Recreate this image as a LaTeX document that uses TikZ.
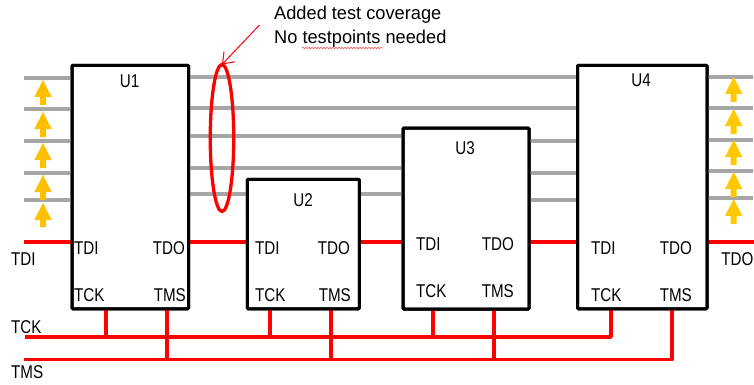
\documentclass[tikz,border=0pt]{standalone}
\usepackage{fontspec}
\setmainfont[FakeStretch=0.82]{Liberation Sans}
\newfontfamily\notefont[FakeStretch=0.985]{Liberation Sans}
\usetikzlibrary{arrows.meta,decorations.pathmorphing,shapes.geometric}
\definecolor{pinred}{RGB}{255,0,0}
\definecolor{wiregray}{RGB}{166,166,166}
\definecolor{flowyellow}{RGB}{255,192,0}
\definecolor{flowyellowb}{RGB}{255,200,0}
\tikzset{
  chip/.style={draw=black,line width=3pt,fill=white,rounded corners=1pt,inner sep=0pt,anchor=north west,outer sep=0pt},
  wire/.style={draw=wiregray,line width=4pt},
  jtag/.style={draw=pinred,line width=3.4pt,line join=round},
  lblw/.style={anchor=base west,inner sep=0pt,font=\fontsize{18.5}{20}\selectfont,text=black},
  lble/.style={anchor=base east,inner sep=0pt,font=\fontsize{18.5}{20}\selectfont,text=black},
  lblc/.style={anchor=base,inner sep=0pt,font=\fontsize{18.5}{20}\selectfont,text=black},
  notelbl/.style={anchor=base west,inner sep=0pt,font=\notefont\fontsize{18.5}{20}\selectfont,text=black},
}
\newcommand{\flowarrow}[4]{%
  \fill[#4] (#1,#2) -- (#1+8.7,#2+17) -- (#1+3,#2+17) -- (#1+3,#3) -- (#1-3,#3) -- (#1-3,#2+17) -- (#1-8.7,#2+17) -- cycle;}
\begin{document}
\begin{tikzpicture}[x=1pt,y=-1pt]
\clip (0,0) rectangle (754,385);
\fill[white] (0,0) rectangle (754,385);
% chips
\node[chip,minimum width=116.5pt,minimum height=243.5pt] (U1) at (72,65.3) {};
\node[chip,minimum width=112pt,minimum height=129.5pt] (U2) at (247.3,179.3) {};
\node[chip,minimum width=126pt,minimum height=181pt] (U3) at (403,128) {};
\node[chip,minimum width=129.5pt,minimum height=243.5pt] (U4) at (577.5,65.3) {};
% free ends
\coordinate (L1) at (24,78); \coordinate (L2) at (24,109.5); \coordinate (L3) at (24,141);
\coordinate (L4) at (24,172.5); \coordinate (L5) at (24,200);
\coordinate (R1) at (753,76.7); \coordinate (R2) at (753,108); \coordinate (R3) at (753,139.7);
\coordinate (R4) at (753,171); \coordinate (R5) at (753,198);
\coordinate (A1) at (0,76.7); \coordinate (A2) at (0,108); \coordinate (A3) at (0,136);
\coordinate (A4) at (0,168); \coordinate (A5) at (0,194); \coordinate (B1) at (0,141);
\coordinate (B2) at (0,172.7); \coordinate (B3) at (0,200);
\coordinate (TDIin) at (24,242); \coordinate (TDOout) at (754,242);
\coordinate (TCKin) at (25,337); \coordinate (TMSin) at (24,359.7);
% grey wires
\foreach \n in {1,...,5} \draw[wire] (L\n) -- (L\n -| U1.west);
\foreach \n in {1,...,5} \draw[wire] (U4.east |- R\n) -- (R\n);
\foreach \n in {1,2} \draw[wire] (U1.east |- A\n) -- (U4.west |- A\n);
\foreach \n in {3,4} \draw[wire] (U1.east |- A\n) -- (U3.west |- A\n);
\draw[wire] (U1.east |- A5) -- (U2.west |- A5);
\draw[wire] (U2.east |- A5) -- (U3.west |- A5);
\foreach \n in {1,2,3} \draw[wire] (U3.east |- B\n) -- (U4.west |- B\n);
% TDI/TDO chain
\draw[jtag] (TDIin) -- (TDIin -| U1.west);
\draw[jtag] (U1.east |- TDIin) -- (U2.west |- TDIin);
\draw[jtag] (U2.east |- TDIin) -- (U3.west |- TDIin);
\draw[jtag] (U3.east |- TDIin) -- (U4.west |- TDIin);
\draw[jtag] (U4.east |- TDIin) -- (TDOout);
% bus
\coordinate (k1) at (106,309); \coordinate (k2) at (270,309); \coordinate (k3) at (433,309); \coordinate (k4) at (611,309);
\coordinate (m1) at (167,309); \coordinate (m2) at (331,309); \coordinate (m3) at (494,309); \coordinate (m4) at (672,309);
\draw[jtag] (TCKin) -- (TCKin -| k4) -- (k4);
\draw[jtag] (TMSin) -- (TMSin -| m4) -- (m4);
\foreach \n in {1,2,3} \draw[jtag] (k\n) -- (k\n |- TCKin);
\foreach \n in {1,2,3} \draw[jtag] (m\n) -- (m\n |- TMSin);
% chip outlines over wire ends
\foreach \u in {U1,U2,U3,U4} \draw[black,line width=3pt,rounded corners=1pt] (\u.north west) rectangle (\u.south east);
% yellow arrows
\flowarrow{43}{80}{105}{flowyellow}\flowarrow{43}{112}{137}{flowyellow}\flowarrow{43}{143}{168}{flowyellow}\flowarrow{43}{175}{200}{flowyellow}\flowarrow{43}{203}{227}{flowyellow}
\flowarrow{733.7}{77}{102}{flowyellowb}\flowarrow{733.7}{109}{134}{flowyellowb}\flowarrow{733.7}{140}{165}{flowyellowb}\flowarrow{733.7}{172}{197}{flowyellowb}\flowarrow{733.7}{199}{224}{flowyellowb}
% callout
\node[draw=pinred,line width=3.3pt,shape=ellipse,minimum width=23.5pt,minimum height=147pt,inner sep=0pt,outer sep=0pt] (loop) at (222,138) {};
\coordinate (calloutstart) at (259.5,25);
\draw[pinred,line width=1pt,-{Straight Barb[length=10pt,width=15pt,line width=1pt]}] (calloutstart) -- (loop.north);
\node[notelbl] (note1) at (274,20) {Added test coverage};
\node[notelbl] (note2) at (274,44) {No testpoints needed};
\draw[pinred!70,line width=.5pt,decorate,decoration={snake,amplitude=.8pt,segment length=3pt}] (302,48) -- (383,48);
% chip labels
\node[lblc] (tU1) at (129.5,88) {U1};
\node[lblc] (tU2) at (303,206.7) {U2};
\node[lblc] (tU3) at (465,154.3) {U3};
\node[lblc] (tU4) at (641,86.7) {U4};
% pins
\node[lblw] (p1) at (74,254) {TDI}; \node[lble] (p2) at (185,254) {TDO};
\node[lblw] (p3) at (74,301.7) {TCK}; \node[lble] (p4) at (186,301.7) {TMS};
\node[lblw] (p5) at (255,254) {TDI}; \node[lble] (p6) at (350,254) {TDO};
\node[lblw] (p7) at (255,301.7) {TCK}; \node[lble] (p8) at (351,301.7) {TMS};
\node[lblw] (p9) at (416,250) {TDI}; \node[lble] (p10) at (514,250) {TDO};
\node[lblw] (p11) at (416,297.7) {TCK}; \node[lble] (p12) at (514,297.7) {TMS};
\node[lblw] (p13) at (591,254.3) {TDI}; \node[lble] (p14) at (692,254.3) {TDO};
\node[lblw] (p15) at (591,301.7) {TCK}; \node[lble] (p16) at (692,301.7) {TMS};
% outer labels
\node[lblw] (o1) at (11,265) {TDI};
\node[lblw] (o2) at (11,333) {TCK};
\node[lblw] (o3) at (11,378) {TMS};
\node[lble] (o4) at (753.5,265) {TDO};
\end{tikzpicture}
\end{document}
